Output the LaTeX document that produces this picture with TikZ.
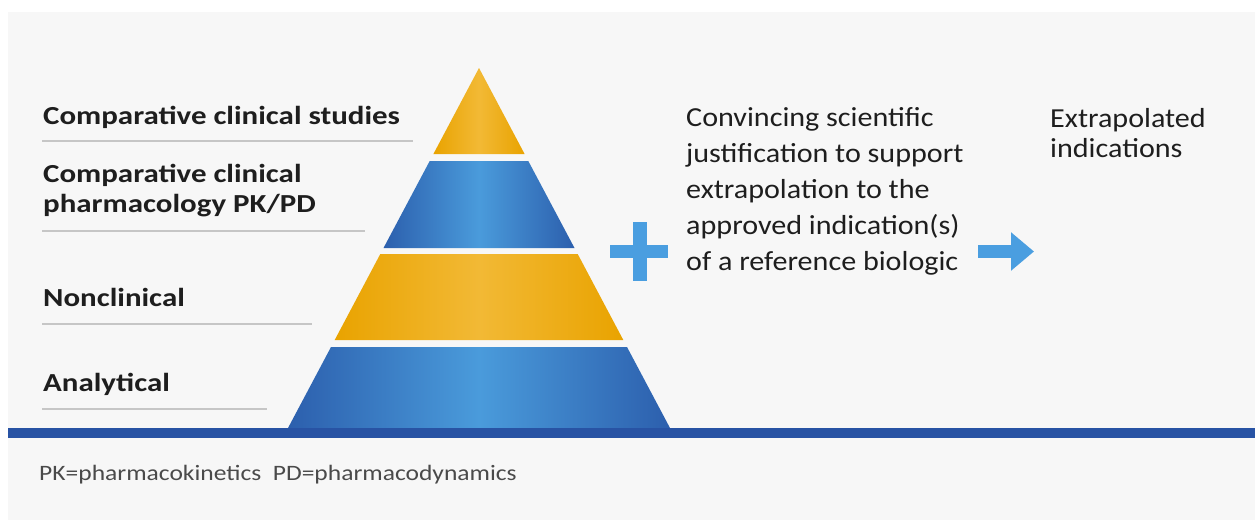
\documentclass[tikz,border=0pt]{standalone}
\usepackage{fontspec}
\setmainfont{Carlito}
\newfontfamily\lblfont[FakeStretch=1.19]{Carlito}
\newfontfamily\bodyfont[FakeStretch=1.095]{Carlito}
\newfontfamily\footfont[FakeStretch=1.16]{Carlito}
\usetikzlibrary{arrows.meta}
\definecolor{panel}{HTML}{F7F7F7}
\definecolor{goldE}{HTML}{E9A300}
\definecolor{goldM}{HTML}{F2B935}
\definecolor{blueE}{HTML}{2C5FAD}
\definecolor{blueM}{HTML}{4A9BDB}
\definecolor{baseblue}{HTML}{2853A4}
\definecolor{plusblue}{HTML}{4A9EE0}
\definecolor{rulegray}{HTML}{C6C6C6}
\definecolor{txt}{HTML}{1E1E1E}
\definecolor{foot}{HTML}{4A4A4A}
\tikzset{
  lbl/.style={font=\lblfont\fontsize{26}{30}\selectfont\bfseries, text=txt, inner sep=0pt, anchor=base west, align=left},
  body/.style={font=\bodyfont\fontsize{27.5}{35.8}\selectfont, text=txt, inner sep=0pt, anchor=base west, align=left},
  foottext/.style={font=\footfont\fontsize{22}{26}\selectfont, text=foot, inner sep=0pt, anchor=base west},
  rulel/.style={draw=rulegray, line width=2pt},
  goldband/.style={left color=goldE, right color=goldE, middle color=goldM},
  blueband/.style={left color=blueE, right color=blueE, middle color=blueM},
  bigarrow/.style={draw=plusblue, line width=13pt, -{Triangle[length=23pt,width=37pt]}}
}
\begin{document}
\begin{tikzpicture}[x=1pt,y=-1pt]
\useasboundingbox (0,0) rectangle (1255,523);
\fill[white] (0,0) rectangle (1255,523);
\fill[panel] (8,12) rectangle (1255,520);
% pyramid
\shade[goldband] (479,68) -- (524.6,154) -- (433.4,154) -- cycle;
\shade[blueband] (429.7,161) -- (528.3,161) -- (574.5,248) -- (383.5,248) -- cycle;
\shade[goldband] (380.3,254) -- (577.7,254) -- (623.3,340) -- (334.7,340) -- cycle;
\shade[blueband] (331,347) -- (627,347) -- (670,428) -- (288,428) -- cycle;
% base line
\fill[baseblue] (8,428) rectangle (1255,438);
% labels (base anchor = baseline of the last line)
\node[lbl] (l1) at (43,124.3) {Comparative clinical studies};
\node[lbl] (l2) at (43,212.5) {Comparative clinical\\pharmacology PK/PD};
\node[lbl] (l3) at (43,306.7) {Nonclinical};
\node[lbl] (l4) at (43,391) {Analytical};
\draw[rulel] (42,141) -- (413,141);
\draw[rulel] (42,231) -- (365,231);
\draw[rulel] (42,324) -- (312,324);
\draw[rulel] (42,409) -- (267,409);
% plus
\fill[plusblue] (633,222) rectangle (647,281);
\fill[plusblue] (610,245) rectangle (668,258);
% text
\node[body] (just) at (686,270) {Convincing scientific\\justification to support\\extrapolation to the\\approved indication(s)\\of a reference biologic};
\node[body, font=\bodyfont\fontsize{27.5}{30}\selectfont] (extra) at (1050,157) {Extrapolated\\indications};
\coordinate (aS) at (978,251.5);
\coordinate (aE) at (1034,251.5);
\draw[bigarrow] (aS) -- (aE);
\node[foottext] (foot) at (39,480) {PK=pharmacokinetics\ \ PD=pharmacodynamics};
\end{tikzpicture}
\end{document}
